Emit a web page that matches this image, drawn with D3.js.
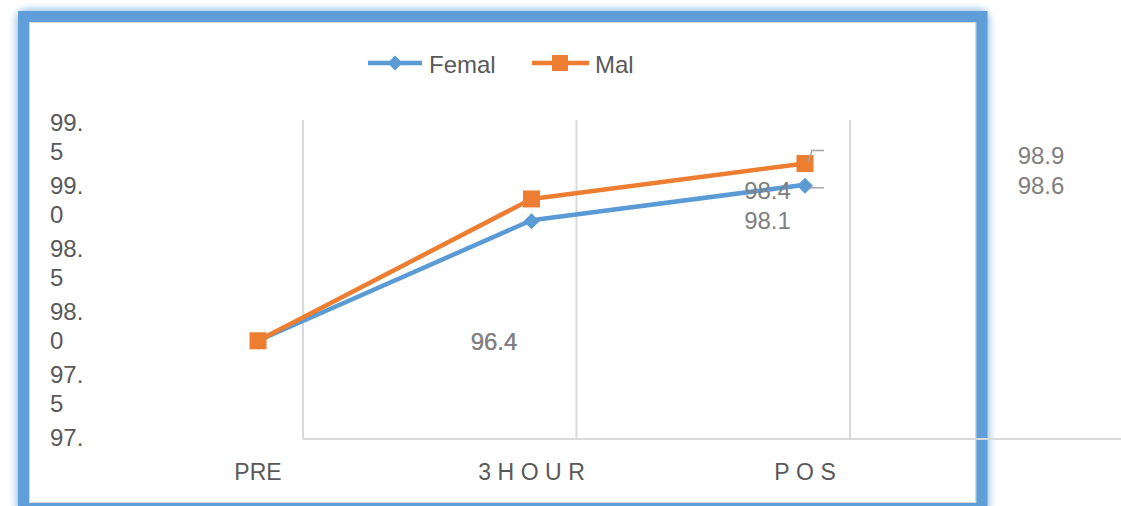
<!DOCTYPE html>
<html>
<head>
<meta charset="utf-8">
<script src="https://cdn.jsdelivr.net/npm/d3@7"></script>
<style>
  html, body { margin: 0; padding: 0; background: #ffffff; }
  svg { display: block; }
  text { font-family: "Liberation Sans", Arial, sans-serif; }
</style>
</head>
<body>
<script>
// Temperature readings by time point
const categories = ["PRE", "3HOUR", "POS"];
const femaleValues = [96.4, 98.1, 98.6];
const maleValues = [96.4, 98.4, 98.9];
const seriesNames = ["Femal", "Mal"];
const yTickLabels = ["99.5", "99.0", "98.5", "98.0", "97.5", "97.0"];
const valueDomain = [95, 99.5];

const W = 1121, H = 506;
const blue = "#5B9BD5", orange = "#ED7D31";
const axisText = "#595959", labelText = "#808080", gridColor = "#d9d9d9";

const svg = d3.select("body").append("svg").attr("width", W).attr("height", H);
const defs = svg.append("defs");

defs.append("filter").attr("id", "glow")
  .attr("x", "-5%").attr("y", "-5%").attr("width", "110%").attr("height", "110%")
  .append("feGaussianBlur").attr("stdDeviation", 3.5);

defs.append("clipPath").attr("id", "ylabClip")
  .append("rect").attr("x", 30).attr("y", 95).attr("width", 200).attr("height", 358);

// Framed chart area: soft blue glow, solid border, thin inner edge
svg.append("rect")
  .attr("x", 23.5).attr("y", 16.5).attr("width", 958.5).attr("height", 492)
  .attr("rx", 4)
  .attr("fill", "none").attr("stroke", blue).attr("stroke-width", 16)
  .attr("opacity", 0.55).attr("filter", "url(#glow)");
svg.append("rect")
  .attr("x", 23.5).attr("y", 16.5).attr("width", 958.5).attr("height", 492)
  .attr("fill", "none").attr("stroke", "#5f9ed8").attr("stroke-width", 11);
svg.append("rect")
  .attr("x", 29.5).attr("y", 22.5).attr("width", 946).attr("height", 480)
  .attr("fill", "#ffffff").attr("stroke", "#d6d6d6").attr("stroke-width", 1);

// Scales
const x = d3.scalePoint().domain(categories).range([258, 805]);
const y = d3.scaleLinear().domain(valueDomain).range([440, 121]);
const yLab = d3.scalePoint().domain(yTickLabels).range([131, 446]);
const gridOffset = 45;
const plotTop = 120, axisY = 439;

// Vertical gridlines
svg.append("g").selectAll("line").data(categories).join("line")
  .attr("x1", d => x(d) + gridOffset).attr("x2", d => x(d) + gridOffset)
  .attr("y1", plotTop).attr("y2", axisY)
  .attr("stroke", gridColor).attr("stroke-width", 2);

// Horizontal category axis line
svg.append("line")
  .attr("x1", x(categories[0]) + gridOffset).attr("x2", W)
  .attr("y1", axisY).attr("y2", axisY)
  .attr("stroke", gridColor).attr("stroke-width", 2);

// Value axis labels, wrapped after the decimal point
const yl = svg.append("g").attr("clip-path", "url(#ylabClip)");
yTickLabels.forEach(lbl => {
  const parts = [lbl.slice(0, lbl.indexOf(".") + 1), lbl.slice(lbl.indexOf(".") + 1)];
  const t = yl.append("text")
    .attr("x", 50).attr("y", yLab(lbl))
    .attr("fill", axisText).attr("font-size", 24);
  t.append("tspan").attr("x", 50).text(parts[0]);
  t.append("tspan").attr("x", 50).attr("dy", 29).text(parts[1]);
});

// Category labels
svg.append("g").selectAll("text").data(categories).join("text")
  .attr("x", (d, i) => x(d) + (i === 0 ? 0 : 3.25))
  .attr("y", 480)
  .attr("text-anchor", "middle")
  .attr("letter-spacing", (d, i) => i === 0 ? 0 : 6.5)
  .attr("fill", axisText).attr("font-size", 23)
  .text(d => d);

// Series lines
const line = d3.line().x(d => x(d.c)).y(d => y(d.v));
const femaleData = categories.map((c, i) => ({ c, v: femaleValues[i] }));
const maleData = categories.map((c, i) => ({ c, v: maleValues[i] }));

const diamondPath = s => `M0,${-s}L${s},0L0,${s}L${-s},0Z`;

svg.append("path").datum(femaleData)
  .attr("d", line).attr("fill", "none")
  .attr("stroke", blue).attr("stroke-width", 4.5).attr("stroke-linejoin", "round");
svg.append("g").selectAll("path").data(femaleData).join("path")
  .attr("transform", d => `translate(${x(d.c)},${y(d.v) + 1})`)
  .attr("d", diamondPath(8)).attr("fill", blue);

svg.append("path").datum(maleData)
  .attr("d", line).attr("fill", "none")
  .attr("stroke", orange).attr("stroke-width", 4.5).attr("stroke-linejoin", "round");
svg.append("g").selectAll("rect").data(maleData).join("rect")
  .attr("x", d => x(d.c) - 8.5).attr("y", d => y(d.v) - 8.5)
  .attr("width", 17).attr("height", 17).attr("fill", orange);

// Leader lines at the last time point
const lastC = categories[categories.length - 1];
const lx = x(lastC);
svg.append("path")
  .attr("d", `M${lx + 3},${y(maleValues[2]) - 2}L${lx + 7},${y(maleValues[2]) - 13}L${lx + 19},${y(maleValues[2]) - 13}`)
  .attr("fill", "none").attr("stroke", "#a6a6a6").attr("stroke-width", 1.5);
svg.append("path")
  .attr("d", `M${lx + 5},${y(femaleValues[2]) + 3}L${lx + 19},${y(femaleValues[2]) + 3}`)
  .attr("fill", "none").attr("stroke", "#a6a6a6").attr("stroke-width", 1.5);

// Data labels (female below, male stacked above)
const labelDx = 236;
const fmt = d3.format(".1f");
categories.forEach((c, i) => {
  const fy = y(femaleValues[i]) + 9;
  const same = femaleValues[i] === maleValues[i];
  const my = same ? fy : fy - 30;
  svg.append("text").attr("x", x(c) + labelDx).attr("y", fy)
    .attr("text-anchor", "middle").attr("fill", labelText).attr("font-size", 24)
    .text(fmt(femaleValues[i]));
  svg.append("text").attr("x", x(c) + labelDx).attr("y", my)
    .attr("text-anchor", "middle").attr("fill", labelText).attr("font-size", 24)
    .text(fmt(maleValues[i]));
});

// Legend
const legend = svg.append("g");
const legY = 63;
// Femal entry
legend.append("line").attr("x1", 368).attr("x2", 422).attr("y1", legY).attr("y2", legY)
  .attr("stroke", blue).attr("stroke-width", 4.5);
legend.append("path").attr("transform", `translate(395,${legY})`)
  .attr("d", diamondPath(7.5)).attr("fill", blue);
legend.append("text").attr("x", 429).attr("y", legY + 10)
  .attr("fill", axisText).attr("font-size", 24).text(seriesNames[0]);
// Mal entry
legend.append("line").attr("x1", 532).attr("x2", 589).attr("y1", legY).attr("y2", legY)
  .attr("stroke", orange).attr("stroke-width", 4.5);
legend.append("rect").attr("x", 560 - 8).attr("y", legY - 8).attr("width", 16).attr("height", 16)
  .attr("fill", orange);
legend.append("text").attr("x", 595).attr("y", legY + 10)
  .attr("fill", axisText).attr("font-size", 24).text(seriesNames[1]);
</script>
</body>
</html>
